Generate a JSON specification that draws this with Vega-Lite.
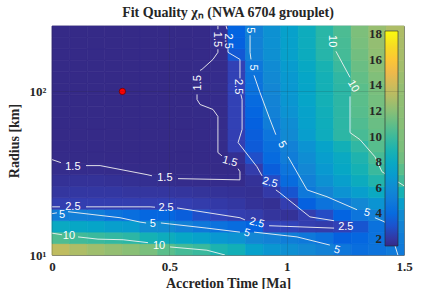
{
"$schema":"https://vega.github.io/schema/vega-lite/v6.json",
"width":352,"height":229,
"autosize":{"type":"none"},
"padding":{"left":52,"top":26,"right":36,"bottom":34},
"title":{"text":"Fit Quality χₙ (NWA 6704 grouplet)","font":"Liberation Serif","fontSize":14,"fontWeight":"bold","color":"#262626","offset":6,"anchor":"middle"},
"datasets":{
"grid":[
{"t":0.0375,"r":10.8,"c":13.5},{"t":0.1125,"r":10.8,"c":13.0},{"t":0.1875,"r":10.8,"c":12.6},{"t":0.2625,"r":10.8,"c":12.3},{"t":0.3375,"r":10.8,"c":12.0},{"t":0.4125,"r":10.8,"c":11.6},{"t":0.4875,"r":10.8,"c":10.8},{"t":0.5625,"r":10.8,"c":10.2},{"t":0.6375,"r":10.8,"c":9.9},{"t":0.7125,"r":10.8,"c":9.0},{"t":0.7875,"r":10.8,"c":8.6},{"t":0.8625,"r":10.8,"c":7.3},{"t":0.9375,"r":10.8,"c":6.6},{"t":1.0125,"r":10.8,"c":6.2},{"t":1.0875,"r":10.8,"c":5.8},{"t":1.1625,"r":10.8,"c":5.4},{"t":1.2375,"r":10.8,"c":4.7},{"t":1.3125,"r":10.8,"c":4.2},{"t":1.3875,"r":10.8,"c":4.5},{"t":1.4625,"r":10.8,"c":4.9},
{"t":0.0375,"r":12.7,"c":10.5},{"t":0.1125,"r":12.7,"c":10.1},{"t":0.1875,"r":12.7,"c":9.9},{"t":0.2625,"r":12.7,"c":9.7},{"t":0.3375,"r":12.7,"c":9.5},{"t":0.4125,"r":12.7,"c":8.8},{"t":0.4875,"r":12.7,"c":8.3},{"t":0.5625,"r":12.7,"c":7.8},{"t":0.6375,"r":12.7,"c":7.4},{"t":0.7125,"r":12.7,"c":6.7},{"t":0.7875,"r":12.7,"c":6.4},{"t":0.8625,"r":12.7,"c":5.7},{"t":0.9375,"r":12.7,"c":5.4},{"t":1.0125,"r":12.7,"c":5.1},{"t":1.0875,"r":12.7,"c":4.8},{"t":1.1625,"r":12.7,"c":4.3},{"t":1.2375,"r":12.7,"c":3.5},{"t":1.3125,"r":12.7,"c":3.8},{"t":1.3875,"r":12.7,"c":4.4},{"t":1.4625,"r":12.7,"c":5.1},
{"t":0.0375,"r":15,"c":8.0},{"t":0.1125,"r":15,"c":7.8},{"t":0.1875,"r":15,"c":7.6},{"t":0.2625,"r":15,"c":7.2},{"t":0.3375,"r":15,"c":7.0},{"t":0.4125,"r":15,"c":6.0},{"t":0.4875,"r":15,"c":5.9},{"t":0.5625,"r":15,"c":5.3},{"t":0.6375,"r":15,"c":4.8},{"t":0.7125,"r":15,"c":4.4},{"t":0.7875,"r":15,"c":4.1},{"t":0.8625,"r":15,"c":3.6},{"t":0.9375,"r":15,"c":2.5},{"t":1.0125,"r":15,"c":2.5},{"t":1.0875,"r":15,"c":2.3},{"t":1.1625,"r":15,"c":2.2},{"t":1.2375,"r":15,"c":2.4},{"t":1.3125,"r":15,"c":3.1},{"t":1.3875,"r":15,"c":4.4},{"t":1.4625,"r":15,"c":5.5},
{"t":0.0375,"r":17.6,"c":5.2},{"t":0.1125,"r":17.6,"c":5.2},{"t":0.1875,"r":17.6,"c":5.1},{"t":0.2625,"r":17.6,"c":4.5},{"t":0.3375,"r":17.6,"c":4.2},{"t":0.4125,"r":17.6,"c":3.8},{"t":0.4875,"r":17.6,"c":3.8},{"t":0.5625,"r":17.6,"c":3.4},{"t":0.6375,"r":17.6,"c":2.9},{"t":0.7125,"r":17.6,"c":2.5},{"t":0.7875,"r":17.6,"c":2.3},{"t":0.8625,"r":17.6,"c":2.2},{"t":0.9375,"r":17.6,"c":1.9},{"t":1.0125,"r":17.6,"c":1.8},{"t":1.0875,"r":17.6,"c":2.3},{"t":1.1625,"r":17.6,"c":2.8},{"t":1.2375,"r":17.6,"c":3.6},{"t":1.3125,"r":17.6,"c":4.6},{"t":1.3875,"r":17.6,"c":5.3},{"t":1.4625,"r":17.6,"c":6.0},
{"t":0.0375,"r":20.7,"c":2.3},{"t":0.1125,"r":20.7,"c":2.3},{"t":0.1875,"r":20.7,"c":2.3},{"t":0.2625,"r":20.7,"c":2.3},{"t":0.3375,"r":20.7,"c":2.3},{"t":0.4125,"r":20.7,"c":2.3},{"t":0.4875,"r":20.7,"c":2.35},{"t":0.5625,"r":20.7,"c":2.3},{"t":0.6375,"r":20.7,"c":2.2},{"t":0.7125,"r":20.7,"c":2.1},{"t":0.7875,"r":20.7,"c":2.0},{"t":0.8625,"r":20.7,"c":1.8},{"t":0.9375,"r":20.7,"c":1.7},{"t":1.0125,"r":20.7,"c":2.3},{"t":1.0875,"r":20.7,"c":3.5},{"t":1.1625,"r":20.7,"c":4.5},{"t":1.2375,"r":20.7,"c":5.0},{"t":1.3125,"r":20.7,"c":5.8},{"t":1.3875,"r":20.7,"c":6.5},{"t":1.4625,"r":20.7,"c":7.2},
{"t":0.0375,"r":24.3,"c":1.95},{"t":0.1125,"r":24.3,"c":2.0},{"t":0.1875,"r":24.3,"c":2.0},{"t":0.2625,"r":24.3,"c":2.0},{"t":0.3375,"r":24.3,"c":1.95},{"t":0.4125,"r":24.3,"c":1.95},{"t":0.4875,"r":24.3,"c":1.95},{"t":0.5625,"r":24.3,"c":1.9},{"t":0.6375,"r":24.3,"c":1.85},{"t":0.7125,"r":24.3,"c":1.8},{"t":0.7875,"r":24.3,"c":1.75},{"t":0.8625,"r":24.3,"c":1.7},{"t":0.9375,"r":24.3,"c":2.1},{"t":1.0125,"r":24.3,"c":3.1},{"t":1.0875,"r":24.3,"c":4.8},{"t":1.1625,"r":24.3,"c":5.6},{"t":1.2375,"r":24.3,"c":6.4},{"t":1.3125,"r":24.3,"c":7.2},{"t":1.3875,"r":24.3,"c":8.0},{"t":1.4625,"r":24.3,"c":8.8},
{"t":0.0375,"r":28.5,"c":1.75},{"t":0.1125,"r":28.5,"c":1.8},{"t":0.1875,"r":28.5,"c":1.8},{"t":0.2625,"r":28.5,"c":1.75},{"t":0.3375,"r":28.5,"c":1.7},{"t":0.4125,"r":28.5,"c":1.65},{"t":0.4875,"r":28.5,"c":1.6},{"t":0.5625,"r":28.5,"c":1.55},{"t":0.6375,"r":28.5,"c":1.55},{"t":0.7125,"r":28.5,"c":1.55},{"t":0.7875,"r":28.5,"c":1.55},{"t":0.8625,"r":28.5,"c":1.8},{"t":0.9375,"r":28.5,"c":2.8},{"t":1.0125,"r":28.5,"c":4.1},{"t":1.0875,"r":28.5,"c":5.3},{"t":1.1625,"r":28.5,"c":6.3},{"t":1.2375,"r":28.5,"c":7.2},{"t":1.3125,"r":28.5,"c":8.2},{"t":1.3875,"r":28.5,"c":9.2},{"t":1.4625,"r":28.5,"c":10.1},
{"t":0.0375,"r":33.5,"c":1.58},{"t":0.1125,"r":33.5,"c":1.55},{"t":0.1875,"r":33.5,"c":1.55},{"t":0.2625,"r":33.5,"c":1.53},{"t":0.3375,"r":33.5,"c":1.5},{"t":0.4125,"r":33.5,"c":1.48},{"t":0.4875,"r":33.5,"c":1.48},{"t":0.5625,"r":33.5,"c":1.48},{"t":0.6375,"r":33.5,"c":1.48},{"t":0.7125,"r":33.5,"c":1.48},{"t":0.7875,"r":33.5,"c":1.5},{"t":0.8625,"r":33.5,"c":2.2},{"t":0.9375,"r":33.5,"c":3.4},{"t":1.0125,"r":33.5,"c":4.6},{"t":1.0875,"r":33.5,"c":5.75},{"t":1.1625,"r":33.5,"c":6.8},{"t":1.2375,"r":33.5,"c":7.8},{"t":1.3125,"r":33.5,"c":8.8},{"t":1.3875,"r":33.5,"c":9.9},{"t":1.4625,"r":33.5,"c":10.8},
{"t":0.0375,"r":39.4,"c":1.49},{"t":0.1125,"r":39.4,"c":1.48},{"t":0.1875,"r":39.4,"c":1.48},{"t":0.2625,"r":39.4,"c":1.47},{"t":0.3375,"r":39.4,"c":1.47},{"t":0.4125,"r":39.4,"c":1.46},{"t":0.4875,"r":39.4,"c":1.46},{"t":0.5625,"r":39.4,"c":1.46},{"t":0.6375,"r":39.4,"c":1.47},{"t":0.7125,"r":39.4,"c":1.49},{"t":0.7875,"r":39.4,"c":1.7},{"t":0.8625,"r":39.4,"c":2.9},{"t":0.9375,"r":39.4,"c":4.0},{"t":1.0125,"r":39.4,"c":5.1},{"t":1.0875,"r":39.4,"c":6.1},{"t":1.1625,"r":39.4,"c":7.1},{"t":1.2375,"r":39.4,"c":8.0},{"t":1.3125,"r":39.4,"c":9.1},{"t":1.3875,"r":39.4,"c":10.3},{"t":1.4625,"r":39.4,"c":11.4},
{"t":0.0375,"r":46.2,"c":1.47},{"t":0.1125,"r":46.2,"c":1.47},{"t":0.1875,"r":46.2,"c":1.47},{"t":0.2625,"r":46.2,"c":1.46},{"t":0.3375,"r":46.2,"c":1.46},{"t":0.4125,"r":46.2,"c":1.46},{"t":0.4875,"r":46.2,"c":1.46},{"t":0.5625,"r":46.2,"c":1.46},{"t":0.6375,"r":46.2,"c":1.47},{"t":0.7125,"r":46.2,"c":1.52},{"t":0.7875,"r":46.2,"c":2.35},{"t":0.8625,"r":46.2,"c":3.3},{"t":0.9375,"r":46.2,"c":4.3},{"t":1.0125,"r":46.2,"c":5.4},{"t":1.0875,"r":46.2,"c":6.4},{"t":1.1625,"r":46.2,"c":7.5},{"t":1.2375,"r":46.2,"c":8.6},{"t":1.3125,"r":46.2,"c":9.6},{"t":1.3875,"r":46.2,"c":10.7},{"t":1.4625,"r":46.2,"c":11.7},
{"t":0.0375,"r":54.3,"c":1.46},{"t":0.1125,"r":54.3,"c":1.46},{"t":0.1875,"r":54.3,"c":1.46},{"t":0.2625,"r":54.3,"c":1.45},{"t":0.3375,"r":54.3,"c":1.45},{"t":0.4125,"r":54.3,"c":1.45},{"t":0.4875,"r":54.3,"c":1.45},{"t":0.5625,"r":54.3,"c":1.46},{"t":0.6375,"r":54.3,"c":1.47},{"t":0.7125,"r":54.3,"c":1.53},{"t":0.7875,"r":54.3,"c":2.35},{"t":0.8625,"r":54.3,"c":3.4},{"t":0.9375,"r":54.3,"c":4.6},{"t":1.0125,"r":54.3,"c":5.9},{"t":1.0875,"r":54.3,"c":7.1},{"t":1.1625,"r":54.3,"c":8.3},{"t":1.2375,"r":54.3,"c":9.5},{"t":1.3125,"r":54.3,"c":10.3},{"t":1.3875,"r":54.3,"c":11.0},{"t":1.4625,"r":54.3,"c":11.8},
{"t":0.0375,"r":63.8,"c":1.45},{"t":0.1125,"r":63.8,"c":1.45},{"t":0.1875,"r":63.8,"c":1.45},{"t":0.2625,"r":63.8,"c":1.45},{"t":0.3375,"r":63.8,"c":1.45},{"t":0.4125,"r":63.8,"c":1.45},{"t":0.4875,"r":63.8,"c":1.45},{"t":0.5625,"r":63.8,"c":1.46},{"t":0.6375,"r":63.8,"c":1.47},{"t":0.7125,"r":63.8,"c":1.53},{"t":0.7875,"r":63.8,"c":2.4},{"t":0.8625,"r":63.8,"c":3.5},{"t":0.9375,"r":63.8,"c":5.1},{"t":1.0125,"r":63.8,"c":6.1},{"t":1.0875,"r":63.8,"c":7.3},{"t":1.1625,"r":63.8,"c":8.4},{"t":1.2375,"r":63.8,"c":9.5},{"t":1.3125,"r":63.8,"c":10.5},{"t":1.3875,"r":63.8,"c":11.2},{"t":1.4625,"r":63.8,"c":12.0},
{"t":0.0375,"r":75,"c":1.45},{"t":0.1125,"r":75,"c":1.45},{"t":0.1875,"r":75,"c":1.45},{"t":0.2625,"r":75,"c":1.45},{"t":0.3375,"r":75,"c":1.45},{"t":0.4125,"r":75,"c":1.45},{"t":0.4875,"r":75,"c":1.45},{"t":0.5625,"r":75,"c":1.46},{"t":0.6375,"r":75,"c":1.48},{"t":0.7125,"r":75,"c":1.53},{"t":0.7875,"r":75,"c":2.4},{"t":0.8625,"r":75,"c":3.75},{"t":0.9375,"r":75,"c":5.4},{"t":1.0125,"r":75,"c":6.4},{"t":1.0875,"r":75,"c":7.4},{"t":1.1625,"r":75,"c":8.5},{"t":1.2375,"r":75,"c":9.5},{"t":1.3125,"r":75,"c":10.7},{"t":1.3875,"r":75,"c":11.4},{"t":1.4625,"r":75,"c":12.1},
{"t":0.0375,"r":88.1,"c":1.45},{"t":0.1125,"r":88.1,"c":1.45},{"t":0.1875,"r":88.1,"c":1.45},{"t":0.2625,"r":88.1,"c":1.45},{"t":0.3375,"r":88.1,"c":1.45},{"t":0.4125,"r":88.1,"c":1.45},{"t":0.4875,"r":88.1,"c":1.45},{"t":0.5625,"r":88.1,"c":1.46},{"t":0.6375,"r":88.1,"c":1.51},{"t":0.7125,"r":88.1,"c":1.55},{"t":0.7875,"r":88.1,"c":2.4},{"t":0.8625,"r":88.1,"c":4.0},{"t":0.9375,"r":88.1,"c":5.5},{"t":1.0125,"r":88.1,"c":6.6},{"t":1.0875,"r":88.1,"c":7.6},{"t":1.1625,"r":88.1,"c":8.7},{"t":1.2375,"r":88.1,"c":9.5},{"t":1.3125,"r":88.1,"c":10.8},{"t":1.3875,"r":88.1,"c":11.5},{"t":1.4625,"r":88.1,"c":12.2},
{"t":0.0375,"r":103.5,"c":1.45},{"t":0.1125,"r":103.5,"c":1.45},{"t":0.1875,"r":103.5,"c":1.45},{"t":0.2625,"r":103.5,"c":1.45},{"t":0.3375,"r":103.5,"c":1.45},{"t":0.4125,"r":103.5,"c":1.45},{"t":0.4875,"r":103.5,"c":1.45},{"t":0.5625,"r":103.5,"c":1.46},{"t":0.6375,"r":103.5,"c":1.52},{"t":0.7125,"r":103.5,"c":1.56},{"t":0.7875,"r":103.5,"c":2.5},{"t":0.8625,"r":103.5,"c":4.4},{"t":0.9375,"r":103.5,"c":5.7},{"t":1.0125,"r":103.5,"c":6.7},{"t":1.0875,"r":103.5,"c":7.6},{"t":1.1625,"r":103.5,"c":8.7},{"t":1.2375,"r":103.5,"c":9.5},{"t":1.3125,"r":103.5,"c":10.8},{"t":1.3875,"r":103.5,"c":11.6},{"t":1.4625,"r":103.5,"c":12.3},
{"t":0.0375,"r":121.6,"c":1.45},{"t":0.1125,"r":121.6,"c":1.45},{"t":0.1875,"r":121.6,"c":1.45},{"t":0.2625,"r":121.6,"c":1.45},{"t":0.3375,"r":121.6,"c":1.45},{"t":0.4125,"r":121.6,"c":1.45},{"t":0.4875,"r":121.6,"c":1.45},{"t":0.5625,"r":121.6,"c":1.46},{"t":0.6375,"r":121.6,"c":1.51},{"t":0.7125,"r":121.6,"c":1.55},{"t":0.7875,"r":121.6,"c":2.4},{"t":0.8625,"r":121.6,"c":4.5},{"t":0.9375,"r":121.6,"c":5.85},{"t":1.0125,"r":121.6,"c":6.8},{"t":1.0875,"r":121.6,"c":7.7},{"t":1.1625,"r":121.6,"c":8.7},{"t":1.2375,"r":121.6,"c":9.6},{"t":1.3125,"r":121.6,"c":11.0},{"t":1.3875,"r":121.6,"c":11.8},{"t":1.4625,"r":121.6,"c":12.5},
{"t":0.0375,"r":142.9,"c":1.45},{"t":0.1125,"r":142.9,"c":1.45},{"t":0.1875,"r":142.9,"c":1.45},{"t":0.2625,"r":142.9,"c":1.45},{"t":0.3375,"r":142.9,"c":1.45},{"t":0.4125,"r":142.9,"c":1.45},{"t":0.4875,"r":142.9,"c":1.45},{"t":0.5625,"r":142.9,"c":1.46},{"t":0.6375,"r":142.9,"c":1.49},{"t":0.7125,"r":142.9,"c":1.53},{"t":0.7875,"r":142.9,"c":2.4},{"t":0.8625,"r":142.9,"c":4.7},{"t":0.9375,"r":142.9,"c":6.0},{"t":1.0125,"r":142.9,"c":7.0},{"t":1.0875,"r":142.9,"c":7.9},{"t":1.1625,"r":142.9,"c":8.9},{"t":1.2375,"r":142.9,"c":9.9},{"t":1.3125,"r":142.9,"c":11.2},{"t":1.3875,"r":142.9,"c":12.0},{"t":1.4625,"r":142.9,"c":12.7},
{"t":0.0375,"r":167.9,"c":1.45},{"t":0.1125,"r":167.9,"c":1.45},{"t":0.1875,"r":167.9,"c":1.45},{"t":0.2625,"r":167.9,"c":1.45},{"t":0.3375,"r":167.9,"c":1.45},{"t":0.4125,"r":167.9,"c":1.45},{"t":0.4875,"r":167.9,"c":1.45},{"t":0.5625,"r":167.9,"c":1.46},{"t":0.6375,"r":167.9,"c":1.47},{"t":0.7125,"r":167.9,"c":1.55},{"t":0.7875,"r":167.9,"c":3.2},{"t":0.8625,"r":167.9,"c":5.3},{"t":0.9375,"r":167.9,"c":6.25},{"t":1.0125,"r":167.9,"c":7.3},{"t":1.0875,"r":167.9,"c":8.2},{"t":1.1625,"r":167.9,"c":9.3},{"t":1.2375,"r":167.9,"c":10.2},{"t":1.3125,"r":167.9,"c":11.4},{"t":1.3875,"r":167.9,"c":12.2},{"t":1.4625,"r":167.9,"c":12.8},
{"t":0.0375,"r":197.2,"c":1.45},{"t":0.1125,"r":197.2,"c":1.45},{"t":0.1875,"r":197.2,"c":1.45},{"t":0.2625,"r":197.2,"c":1.45},{"t":0.3375,"r":197.2,"c":1.45},{"t":0.4125,"r":197.2,"c":1.45},{"t":0.4875,"r":197.2,"c":1.45},{"t":0.5625,"r":197.2,"c":1.46},{"t":0.6375,"r":197.2,"c":1.47},{"t":0.7125,"r":197.2,"c":1.6},{"t":0.7875,"r":197.2,"c":3.5},{"t":0.8625,"r":197.2,"c":5.4},{"t":0.9375,"r":197.2,"c":6.3},{"t":1.0125,"r":197.2,"c":7.3},{"t":1.0875,"r":197.2,"c":8.3},{"t":1.1625,"r":197.2,"c":9.4},{"t":1.2375,"r":197.2,"c":10.3},{"t":1.3125,"r":197.2,"c":11.6},{"t":1.3875,"r":197.2,"c":12.3},{"t":1.4625,"r":197.2,"c":12.9},
{"t":0.0375,"r":231.7,"c":1.45},{"t":0.1125,"r":231.7,"c":1.45},{"t":0.1875,"r":231.7,"c":1.45},{"t":0.2625,"r":231.7,"c":1.45},{"t":0.3375,"r":231.7,"c":1.45},{"t":0.4125,"r":231.7,"c":1.45},{"t":0.4875,"r":231.7,"c":1.45},{"t":0.5625,"r":231.7,"c":1.46},{"t":0.6375,"r":231.7,"c":1.47},{"t":0.7125,"r":231.7,"c":1.7},{"t":0.7875,"r":231.7,"c":3.6},{"t":0.8625,"r":231.7,"c":5.3},{"t":0.9375,"r":231.7,"c":6.3},{"t":1.0125,"r":231.7,"c":7.3},{"t":1.0875,"r":231.7,"c":8.3},{"t":1.1625,"r":231.7,"c":9.4},{"t":1.2375,"r":231.7,"c":10.4},{"t":1.3125,"r":231.7,"c":11.7},{"t":1.3875,"r":231.7,"c":12.4},{"t":1.4625,"r":231.7,"c":13.0}
],
"lines":[
{"k":"10a","o":1,"t":0,"r":13.6},{"k":"10a","o":2,"t":0.043,"r":13.3},
{"k":"10b","o":1,"t":0.111,"r":12.9},{"k":"10b","o":2,"t":0.196,"r":12.5},{"k":"10b","o":3,"t":0.303,"r":12.4},{"k":"10b","o":4,"t":0.409,"r":11.9},
{"k":"10c","o":1,"t":0.503,"r":11.2},{"k":"10c","o":2,"t":0.66,"r":10.7},{"k":"10c","o":3,"t":0.737,"r":10.0},
{"k":"5a","o":1,"t":0,"r":17.9},{"k":"5a","o":2,"t":0.021,"r":18.1},
{"k":"5b","o":1,"t":0.068,"r":18.4},{"k":"5b","o":2,"t":0.29,"r":16.9},{"k":"5b","o":3,"t":0.375,"r":15.9},{"k":"5b","o":4,"t":0.401,"r":15.7},
{"k":"5c","o":1,"t":0.464,"r":15.7},{"k":"5c","o":2,"t":0.66,"r":14.6},{"k":"5c","o":3,"t":0.801,"r":13.8},
{"k":"5d","o":1,"t":0.861,"r":13.8},{"k":"5d","o":2,"t":1.044,"r":12.9},{"k":"5d","o":3,"t":1.184,"r":11.5},
{"k":"25a","o":1,"t":0,"r":19.7},{"k":"25a","o":2,"t":0.034,"r":19.7},
{"k":"25b","o":1,"t":0.145,"r":19.7},{"k":"25b","o":2,"t":0.418,"r":19.7},{"k":"25b","o":3,"t":0.439,"r":19.6},
{"k":"25c","o":1,"t":0.533,"r":19.4},{"k":"25c","o":2,"t":0.801,"r":16.9},{"k":"25c","o":3,"t":0.822,"r":16.4},
{"k":"25d","o":1,"t":0.925,"r":15.1},{"k":"25d","o":2,"t":1.202,"r":14.6},
{"k":"25e","o":1,"t":1.202,"r":16.2},{"k":"25e","o":2,"t":1.099,"r":17.1},{"k":"25e","o":3,"t":0.971,"r":24.0},{"k":"25e","o":4,"t":0.954,"r":25.0},
{"k":"25f","o":1,"t":0.895,"r":30.5},{"k":"25f","o":2,"t":0.873,"r":34.7},{"k":"25f","o":3,"t":0.793,"r":48.7},{"k":"25f","o":4,"t":0.81,"r":58.5},{"k":"25f","o":5,"t":0.81,"r":89.3},{"k":"25f","o":6,"t":0.805,"r":95.9},
{"k":"25g","o":1,"t":0.801,"r":120.2},{"k":"25g","o":2,"t":0.801,"r":157.0},{"k":"25g","o":3,"t":0.75,"r":173.4},{"k":"25g","o":4,"t":0.75,"r":181.1},
{"k":"25h","o":1,"t":0.746,"r":239.9},{"k":"25h","o":2,"t":0.742,"r":251},
{"k":"15a","o":1,"t":0,"r":38.3},{"k":"15a","o":2,"t":0.038,"r":36.7},
{"k":"15b","o":1,"t":0.145,"r":35.2},{"k":"15b","o":2,"t":0.205,"r":35.2},{"k":"15b","o":3,"t":0.405,"r":31.0},{"k":"15b","o":4,"t":0.426,"r":30.5},
{"k":"15c","o":1,"t":0.537,"r":29.3},{"k":"15c","o":2,"t":0.801,"r":28.8},{"k":"15c","o":3,"t":0.801,"r":32.3},{"k":"15c","o":4,"t":0.793,"r":33.7},
{"k":"15d","o":1,"t":0.724,"r":40.4},{"k":"15d","o":2,"t":0.707,"r":42.3},{"k":"15d","o":3,"t":0.707,"r":70.3},{"k":"15d","o":4,"t":0.686,"r":77.6},{"k":"15d","o":5,"t":0.631,"r":83.2},{"k":"15d","o":6,"t":0.618,"r":89.3},{"k":"15d","o":7,"t":0.618,"r":95.9},
{"k":"15e","o":1,"t":0.631,"r":134.5},{"k":"15e","o":2,"t":0.639,"r":136.4},{"k":"15e","o":3,"t":0.686,"r":157.0},{"k":"15e","o":4,"t":0.707,"r":173.4},{"k":"15e","o":5,"t":0.707,"r":181.1},
{"k":"15f","o":1,"t":0.707,"r":239.9},{"k":"15f","o":2,"t":0.707,"r":251},
{"k":"5f","o":1,"t":0.844,"r":220.6},{"k":"5f","o":2,"t":0.844,"r":173.4},{"k":"5f","o":3,"t":0.848,"r":157.0},
{"k":"5g","o":1,"t":0.861,"r":125.4},{"k":"5g","o":2,"t":0.886,"r":98.7},{"k":"5g","o":3,"t":0.929,"r":67.3},{"k":"5g","o":4,"t":0.954,"r":54.4},
{"k":"5h","o":1,"t":1.006,"r":39.9},{"k":"5h","o":2,"t":1.087,"r":25.0},{"k":"5h","o":3,"t":1.172,"r":22.7},{"k":"5h","o":4,"t":1.3,"r":18.9},
{"k":"5i","o":1,"t":1.376,"r":16.9},{"k":"5i","o":2,"t":1.419,"r":15.9},{"k":"5i","o":3,"t":1.461,"r":11.5},{"k":"5i","o":4,"t":1.474,"r":10.0},
{"k":"10e","o":1,"t":1.21,"r":175.9},{"k":"10e","o":2,"t":1.27,"r":121.9},
{"k":"10f","o":1,"t":1.27,"r":93.2},{"k":"10f","o":2,"t":1.27,"r":56.0},{"k":"10f","o":3,"t":1.312,"r":50.8},{"k":"10f","o":4,"t":1.376,"r":39.9},{"k":"10f","o":5,"t":1.406,"r":32.3},{"k":"10f","o":6,"t":1.5,"r":26.5}
],
"labA":[
{"t":0.089,"r":34.7,"s":"1.5"},{"t":0.481,"r":29.7,"s":"1.5"},{"t":0.089,"r":19.7,"s":"2.5"},{"t":0.486,"r":19.4,"s":"2.5"},{"t":0.043,"r":17.6,"s":"5"},{"t":0.43,"r":15.5,"s":"5"},{"t":0.072,"r":13.1,"s":"10"},{"t":0.456,"r":11.4,"s":"10"},{"t":1.252,"r":14.9,"s":"2.5"}
],
"labB":[
{"t":0.758,"r":37.2,"s":"1.5"},{"t":0.929,"r":27.7,"s":"2.5"},{"t":0.873,"r":15.7,"s":"2.5"},{"t":0.831,"r":13.6,"s":"5"},{"t":1.214,"r":10.7,"s":"5"},{"t":1.342,"r":18.1,"s":"5"}
],
"labC":[
{"t":0.98,"r":47.3,"s":"5"},{"t":1.283,"r":107.4,"s":"10"}
],
"labD":[
{"t":0.703,"r":208,"s":"1.5"},{"t":0.75,"r":203,"s":"2.5"},{"t":0.844,"r":236,"s":"5"},{"t":0.856,"r":140,"s":"5"},{"t":0.793,"r":107,"s":"2.5"},{"t":1.193,"r":203,"s":"10"}
],
"labE":[
{"t":0.622,"r":113,"s":"1.5"}
],
"best":[{"t":0.3,"r":100}]
},
"layer":[
{"data":{"name":"grid"},
 "mark":{"type":"rect","stroke":{"expr":"scale('color', datum.c)"},"strokeWidth":0.7},
 "encoding":{
  "x":{"field":"t","type":"ordinal","axis":null,"scale":{"paddingInner":0,"paddingOuter":0}},
  "y":{"field":"r","type":"ordinal","sort":"descending","axis":null,"scale":{"paddingInner":0,"paddingOuter":0}},
  "color":{"field":"c","type":"quantitative",
   "scale":{"domain":[1.45,2.5,3.55,4.6,5.65,6.7,7.75,8.8,9.85,10.9,11.95,13.0,14.05,15.1,16.15,17.2,18.25],
            "range":["#352a87","#3243ba","#0363e1","#0d75dc","#1485d4","#0998d1","#06a7c6","#15b1b4","#38b99e","#5ebe89","#87bf77","#aebd67","#d1bb59","#f1b949","#fec832","#f5de21","#f9fb0e"],"interpolate":"rgb"},
   "legend":{"type":"gradient","orient":"none","legendX":333,"legendY":5,"direction":"vertical","gradientLength":215,"gradientThickness":13,"values":[2,4,6,8,10,12,14,16,18],"title":null,"padding":0,"labelFont":"Liberation Serif","labelFontSize":13,"labelFontWeight":"bold","labelColor":"#262626","gradientStrokeColor":"#262626","gradientStrokeWidth":0.6,"labelOverlap":false,
    "encode":{"labels":{"update":{"align":{"value":"right"},"x":{"value":-3},"baseline":{"value":"middle"}}}}}}
 }},
{"layer":[
 {"data":{"name":"lines"},
  "mark":{"type":"line","color":"#f2f2f2","strokeWidth":0.9,"clip":true},
  "encoding":{
   "x":{"field":"t","type":"quantitative","scale":{"domain":[0,1.5],"nice":false,"zero":false},
        "axis":{"values":[0,0.5,1,1.5],"format":"~g","title":"Accretion Time [Ma]","grid":true,"gridColor":"#262626","gridOpacity":0.15,"ticks":false,"domain":false,"labelFlush":false,"labelFont":"Liberation Serif","labelFontSize":13,"labelFontWeight":"bold","labelColor":"#262626","labelPadding":5,"titleFont":"Liberation Serif","titleFontSize":14,"titleFontWeight":"bold","titleColor":"#262626","titlePadding":3,"zindex":1}},
   "y":{"field":"r","type":"quantitative","scale":{"type":"log","domain":[10,251.2],"nice":false},
        "axis":{"values":[10,100],"labelExpr":"datum.value == 10 ? '10¹' : '10²'","title":"Radius [km]","grid":true,"gridColor":"#262626","gridOpacity":0.15,"ticks":false,"domain":false,"labelFlush":false,"labelFont":"Liberation Serif","labelFontSize":13,"labelFontWeight":"bold","labelColor":"#262626","labelPadding":6,"titleFont":"Liberation Serif","titleFontSize":14,"titleFontWeight":"bold","titleColor":"#262626","titlePadding":8,"zindex":1}},
   "detail":{"field":"k"},
   "order":{"field":"o"}
  }},
 {"data":{"name":"labA"},"mark":{"type":"text","angle":0,"color":"white","font":"Liberation Sans","fontSize":11,"align":"center","baseline":"middle","clip":true},
  "encoding":{"x":{"field":"t","type":"quantitative"},"y":{"field":"r","type":"quantitative"},"text":{"field":"s"}}},
 {"data":{"name":"labB"},"mark":{"type":"text","angle":15,"color":"white","font":"Liberation Sans","fontSize":11,"align":"center","baseline":"middle","clip":true},
  "encoding":{"x":{"field":"t","type":"quantitative"},"y":{"field":"r","type":"quantitative"},"text":{"field":"s"}}},
 {"data":{"name":"labC"},"mark":{"type":"text","angle":60,"color":"white","font":"Liberation Sans","fontSize":11,"align":"center","baseline":"middle","clip":true},
  "encoding":{"x":{"field":"t","type":"quantitative"},"y":{"field":"r","type":"quantitative"},"text":{"field":"s"}}},
 {"data":{"name":"labD"},"mark":{"type":"text","angle":90,"color":"white","font":"Liberation Sans","fontSize":11,"align":"center","baseline":"middle","clip":true},
  "encoding":{"x":{"field":"t","type":"quantitative"},"y":{"field":"r","type":"quantitative"},"text":{"field":"s"}}},
 {"data":{"name":"labE"},"mark":{"type":"text","angle":270,"color":"white","font":"Liberation Sans","fontSize":11,"align":"center","baseline":"middle","clip":true},
  "encoding":{"x":{"field":"t","type":"quantitative"},"y":{"field":"r","type":"quantitative"},"text":{"field":"s"}}},
 {"data":{"name":"best"},"mark":{"type":"point","shape":"circle","filled":true,"color":"#ff0000","stroke":"#5a0000","strokeWidth":0.7,"size":40,"opacity":1},
  "encoding":{"x":{"field":"t","type":"quantitative"},"y":{"field":"r","type":"quantitative"}}}
]}
],
"resolve":{"scale":{"x":"independent","y":"independent"}},
"config":{"view":{"stroke":"#4d4d4d","strokeWidth":0.8},"background":"white"}
}
